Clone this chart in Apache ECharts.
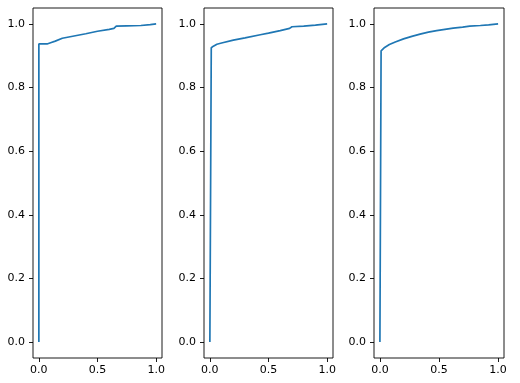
<!DOCTYPE html>
<html>
<head>
<meta charset="utf-8">
<script src="https://cdn.jsdelivr.net/npm/echarts@6/dist/echarts.min.js"></script>
<style>
html,body{margin:0;padding:0;background:#fff;}
#c{width:520px;height:383px;}
</style>
</head>
<body>
<div id="c"></div>
<script>
// Panel 1 ROC curve
const fpr1 = [0, 0, 0.07, 0.1, 0.14, 0.2, 0.3, 0.4, 0.5, 0.6, 0.64, 0.66, 0.75, 0.87, 0.95, 1.0];
const tpr1 = [0, 0.937, 0.937, 0.941, 0.946, 0.955, 0.962, 0.969, 0.977, 0.983, 0.986, 0.993, 0.994, 0.995, 0.998, 1.0];
// Panel 2 ROC curve
const fpr2 = [0, 0.012, 0.03, 0.06, 0.1, 0.2, 0.3, 0.43, 0.5, 0.6, 0.68, 0.7, 0.8, 0.9, 1.0];
const tpr2 = [0, 0.925, 0.93, 0.936, 0.94, 0.949, 0.956, 0.966, 0.971, 0.979, 0.986, 0.991, 0.993, 0.996, 1.0];
// Panel 3 ROC curve
const fpr3 = [0, 0.01, 0.04, 0.08, 0.13, 0.2, 0.27, 0.34, 0.41, 0.48, 0.55, 0.62, 0.7, 0.76, 0.85, 0.92, 1.0];
const tpr3 = [0, 0.915, 0.926, 0.935, 0.943, 0.953, 0.961, 0.968, 0.974, 0.979, 0.983, 0.987, 0.99, 0.993, 0.995, 0.997, 1.0];

const xTicks = [0, 0.5, 1.0];
const yTicks = [0, 0.2, 0.4, 0.6, 0.8, 1.0];

const panels = [[fpr1, tpr1], [fpr2, tpr2], [fpr3, tpr3]];
const grids = [
  {left: 33, top: 8, width: 129, height: 350},
  {left: 204, top: 8, width: 129, height: 350},
  {left: 374, top: 8, width: 130, height: 350}
];

const font = {fontFamily: 'DejaVu Sans', fontSize: 11, color: '#000'};
const fmt = v => v.toFixed(1);

const option = {
  animation: false,
  backgroundColor: '#fff',
  grid: grids.map(g => Object.assign({show: true, borderColor: '#000', borderWidth: 0.9, backgroundColor: 'transparent'}, g)),
  xAxis: grids.map((g, i) => ({
    type: 'value', gridIndex: i, min: -0.05, max: 1.05,
    axisLine: {show: false, onZero: false},
    splitLine: {show: false},
    axisTick: {show: true, length: 4, lineStyle: {color: '#000', width: 0.9}, customValues: xTicks},
    axisLabel: Object.assign({margin: 7, formatter: fmt, customValues: xTicks}, font)
  })),
  yAxis: grids.map((g, i) => ({
    type: 'value', gridIndex: i, min: -0.05, max: 1.05,
    axisLine: {show: false, onZero: false},
    splitLine: {show: false},
    axisTick: {show: true, length: 4, lineStyle: {color: '#000', width: 0.9}, customValues: yTicks},
    axisLabel: Object.assign({margin: 8, formatter: fmt, customValues: yTicks}, font)
  })),
  series: panels.map((p, i) => ({
    type: 'line', xAxisIndex: i, yAxisIndex: i,
    data: p[0].map((x, j) => [x, p[1][j]]),
    showSymbol: false, symbol: 'none',
    lineStyle: {color: '#1f77b4', width: 1.7},
    silent: true
  }))
};

echarts.init(document.getElementById('c'), null, {renderer: 'canvas'}).setOption(option);
</script>
</body>
</html>
